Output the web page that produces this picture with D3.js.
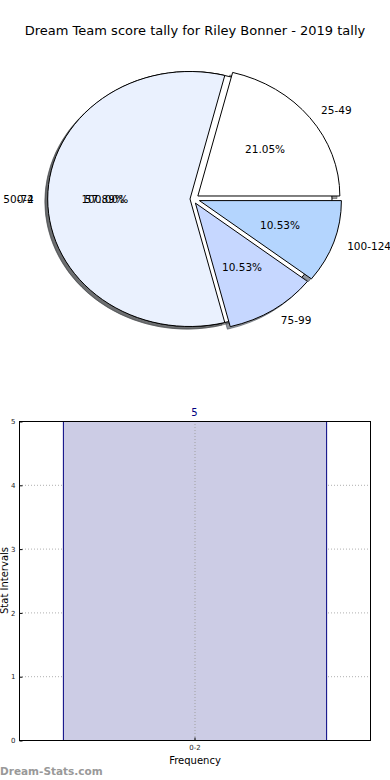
<!DOCTYPE html>
<html><head><meta charset="utf-8">
<script src="https://cdn.jsdelivr.net/npm/d3@7"></script>
<style>body{margin:0;background:#fff}svg{display:block;font-family:"DejaVu Sans",sans-serif}</style>
</head><body><div id="chart"></div>
<script>
// ---- data ----
const title = "Dream Team score tally for Riley Bonner - 2019 tally";
const basePieLabels = ["0-2"];
const basePieValues = [5];
const basePieColors = ["#ffffff"];
const pieLabels = ["25-49", "50-74", "75-99", "100-124"];
const pieValues = [4, 11, 2, 2];
const pieExplode = [0.07, 0, 0.07, 0.07];
const pieColors = ["#ffffff", "#eaf1fe", "#c6d7ff", "#b4d5fe"];
const barCategories = ["0-2"];
const barValues = [5];
const barTicks = [0, 1, 2, 3, 4, 5];
const xAxisLabel = "Frequency";
const yAxisLabel = "Stat Intervals";
const watermark = "Dream-Stats.com";

const W = 390, H = 780;
const svg = d3.select("#chart").append("svg").attr("width", W).attr("height", H);

svg.append("text").attr("x", 195).attr("y", 35).attr("text-anchor", "middle")
  .attr("font-size", 13).attr("fill", "#000").text(title);

// ---- pie ----
const cx = 190, cy = 199, rx = 142, ry = 127.5;
const exX = rx, exY = ry * 0.55;
const pieGen = d3.pie().sort(null).value(d => d).startAngle(Math.PI / 2).endAngle(Math.PI / 2 - 2 * Math.PI);
const arcUnit = d3.arc().innerRadius(0).outerRadius(1);

function shadeColor(c) {
  const r = d3.rgb(c);
  return d3.rgb(r.r * 0.3, r.g * 0.3, r.b * 0.3).toString();
}

function buildPie(values, labels, colors, explode) {
  const arcs = pieGen(values);
  const total = d3.sum(values);
  return arcs.map((a, i) => {
    const mid = (a.startAngle + a.endAngle) / 2;
    const ux = Math.sin(mid), uy = -Math.cos(mid);
    const e = explode ? explode[i] : 0;
    return {
      a, mid, ux, uy,
      ox: cx + e * exX * ux, oy: cy + e * exY * uy,
      label: labels[i], color: colors[i],
      pct: (values[i] / total * 100).toFixed(2) + "%"
    };
  });
}
const baseSlices = buildPie(basePieValues, basePieLabels, basePieColors, null);
const slices = buildPie(pieValues, pieLabels, pieColors, pieExplode);
const all = baseSlices.concat(slices);

const pieG = svg.append("g");
// shadows first
all.forEach(s => {
  pieG.append("path")
    .attr("d", arcUnit(s.a))
    .attr("transform", `translate(${s.ox - 0.02 * rx},${s.oy + 0.02 * ry}) scale(${rx},${ry})`)
    .attr("fill", shadeColor(s.color)).attr("fill-opacity", 0.55)
    .attr("stroke", shadeColor(s.color)).attr("stroke-opacity", 0.55)
    .attr("stroke-width", 1).attr("vector-effect", "non-scaling-stroke");
});
// wedges
all.forEach(s => {
  pieG.append("path")
    .attr("d", arcUnit(s.a))
    .attr("transform", `translate(${s.ox},${s.oy}) scale(${rx},${ry})`)
    .attr("fill", s.color).attr("stroke", "#000").attr("stroke-width", 1)
    .attr("stroke-linejoin", "miter")
    .attr("vector-effect", "non-scaling-stroke");
});
// labels
all.forEach(s => {
  const lx = s.ox + 1.1 * rx * s.ux, ly = s.oy + 1.1 * ry * s.uy;
  pieG.append("text").attr("x", lx).attr("y", ly).attr("dy", "0.35em")
    .attr("text-anchor", s.ux > 0.0001 ? "start" : (s.ux < -0.0001 ? "end" : "middle"))
    .attr("font-size", 10.5).text(s.label);
  const px = s.ox + 0.6 * rx * s.ux, py = s.oy + 0.6 * ry * s.uy;
  pieG.append("text").attr("x", px).attr("y", py).attr("dy", "0.35em")
    .attr("text-anchor", "middle").attr("font-size", 10.5).text(s.pct);
});

// ---- bar chart ----
const L = 19, R = 370, T = 421, B = 740;
const x = d3.scaleBand().domain(barCategories).range([L, R]).paddingInner(0).paddingOuter(1 / 6);
const y = d3.scaleLinear().domain([0, 5]).range([B, T]);
const bg = svg.append("g");

// grid
bg.selectAll(".hg").data(barTicks).join("line")
  .attr("x1", L).attr("x2", R).attr("y1", d => y(d) + 0.5).attr("y2", d => y(d) + 0.5)
  .attr("stroke", "#b0b0b0").attr("stroke-dasharray", "1,2").attr("stroke-width", 1);

// bars
bg.selectAll(".bar").data(barValues).join("rect")
  .attr("x", (d, i) => x(barCategories[i]) + 0.5)
  .attr("y", d => y(d) + 0.5)
  .attr("width", x.bandwidth())
  .attr("height", d => B - y(d))
  .attr("fill", "#ccccE5").attr("stroke", "#000080").attr("stroke-width", 1);

bg.selectAll(".vg").data(barCategories).join("line")
  .attr("x1", d => x(d) + x.bandwidth() / 2 + 0.5).attr("x2", d => x(d) + x.bandwidth() / 2 + 0.5)
  .attr("y1", T).attr("y2", B)
  .attr("stroke", "#a0a0a0").attr("stroke-dasharray", "1,2").attr("stroke-width", 1);

// value labels
bg.selectAll(".vl").data(barValues).join("text")
  .attr("x", (d, i) => x(barCategories[i]) + x.bandwidth() / 2)
  .attr("y", d => y(d) - 5)
  .attr("text-anchor", "middle").attr("font-size", 10).attr("fill", "#000080")
  .text(d => d);

// frame
bg.append("rect").attr("x", L + 0.5).attr("y", T + 0.5).attr("width", R - L).attr("height", B - T)
  .attr("fill", "none").attr("stroke", "#000").attr("stroke-width", 1);

// y axis ticks
const yAxis = d3.axisLeft(y).tickValues(barTicks).tickSize(-3).tickPadding(4).tickFormat(d3.format("d"));
const ya = bg.append("g").attr("transform", `translate(${L + 0.5},0.5)`).call(yAxis);
ya.select(".domain").remove();
ya.selectAll("text").attr("font-size", 7).attr("font-family", "DejaVu Sans").attr("fill", "#222");
ya.selectAll("line").attr("stroke", "#000");

const xAxis = d3.axisBottom(x).tickSize(-3).tickPadding(5);
const xa = bg.append("g").attr("transform", `translate(0.5,${B + 0.5})`).call(xAxis);
xa.select(".domain").remove();
xa.selectAll("text").attr("font-size", 7).attr("font-family", "DejaVu Sans").attr("fill", "#222");

svg.append("text").attr("x", 195).attr("y", 764).attr("text-anchor", "middle")
  .attr("font-size", 10).text(xAxisLabel);
svg.append("text").attr("transform", `translate(8,${(T + B) / 2}) rotate(-90)`)
  .attr("text-anchor", "middle").attr("font-size", 10).text(yAxisLabel);

svg.append("text").attr("x", 0).attr("y", 775).attr("font-size", 10.5)
  .attr("font-weight", "600").attr("fill", "#999").text(watermark);
</script></body></html>
